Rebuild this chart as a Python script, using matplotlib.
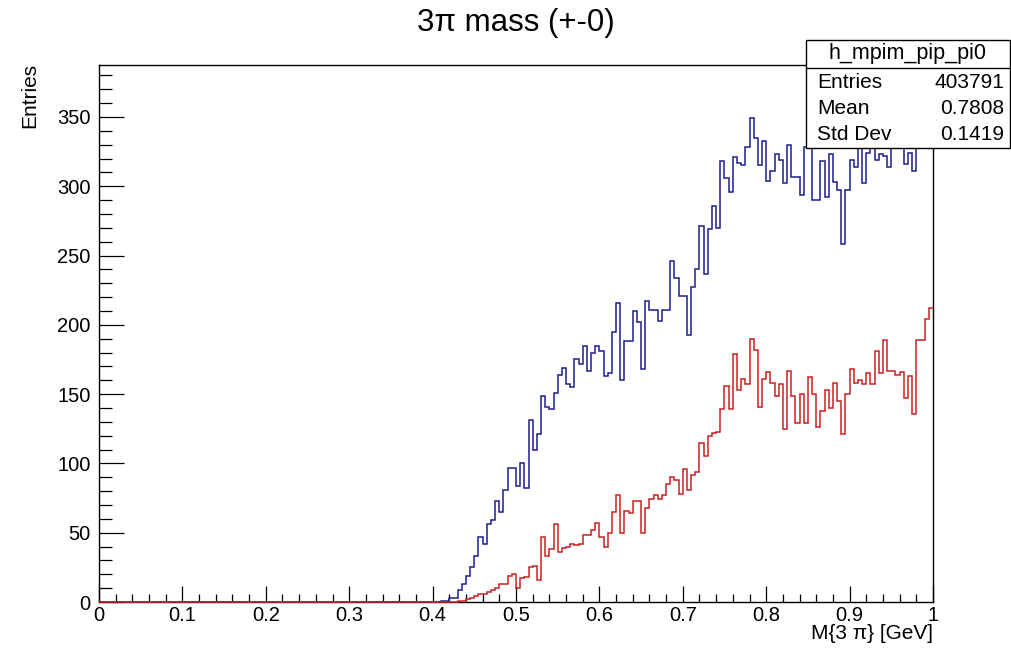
import numpy as np
import matplotlib
matplotlib.use("Agg")
import matplotlib.pyplot as plt
from matplotlib.patches import Rectangle
from matplotlib.lines import Line2D
from matplotlib.ticker import MultipleLocator, FuncFormatter

plt.rcParams['font.family'] = ['Liberation Sans', 'DejaVu Sans']

# ---- data (200 bins from 0 to 1 GeV) ----
n_bins = 200
x_min, x_max = 0.0, 1.0

blue_counts = [0] * 82 + [
    1, 1, 3, 3, 9, 13, 19, 25, 33, 47,            # 82-91
    42, 56, 59, 73, 65, 81, 97, 97, 84, 100,      # 92-101
    82, 131, 110, 121, 149, 141, 139, 151, 164, 169,  # 102-111
    157, 155, 175, 172, 185, 167, 180, 185, 181, 163,  # 112-121
    165, 195, 216, 160, 188, 188, 210, 202, 168, 217,  # 122-131
    211, 211, 203, 211, 211, 246, 234, 221, 221, 193,  # 132-141
    227, 240, 271, 237, 269, 286, 270, 318, 306, 296,  # 142-151
    321, 317, 315, 328, 349, 335, 315, 333, 304, 311,  # 152-161
    323, 319, 302, 330, 307, 307, 294, 328, 335, 290,  # 162-171
    290, 318, 292, 323, 303, 297, 258, 297, 319, 314,  # 172-181
    335, 302, 324, 338, 319, 323, 322, 314, 340, 345,  # 182-191
    328, 316, 324, 311, 345, 369, 350, 338,            # 192-199
]

red_counts = [0] * 86 + [
    1, 1, 2, 3, 4, 6, 6, 7, 9, 10,                # 86-95
    13, 13, 19, 20, 10, 17, 18, 25, 26, 16,       # 96-105
    47, 33, 38, 56, 36, 39, 40, 42, 41, 42,       # 106-115
    48, 48, 52, 57, 47, 40, 50, 65, 77, 50,       # 116-125
    66, 64, 73, 73, 50, 68, 74, 77, 74, 77,       # 126-135
    85, 90, 88, 78, 96, 81, 92, 94, 115, 105,     # 136-145
    120, 122, 123, 139, 156, 139, 179, 153, 161, 157,  # 146-155
    190, 182, 141, 161, 166, 158, 149, 157, 125, 167,  # 156-165
    149, 129, 150, 129, 162, 150, 126, 138, 153, 140,  # 166-175
    158, 145, 121, 150, 168, 158, 160, 157, 165, 157,  # 176-185
    181, 165, 189, 167, 167, 164, 166, 147, 163, 136,  # 186-195
    189, 189, 204, 212,                                # 196-199
]

title_text = "3\u03c0 mass (+-0)"
x_title = "M{3 \u03c0} [GeV]"
y_title = "Entries"
stats_name = "h_mpim_pip_pi0"
stats_rows = [("Entries", "403791"), ("Mean", "0.7808"), ("Std Dev", "0.1419")]
y_max = 387.5

edges = np.linspace(x_min, x_max, n_bins + 1)

# ---- figure ----
W, H = 1012, 656
fig = plt.figure(figsize=(W / 100, H / 100), dpi=100)
fx = lambda px: px / W
fy = lambda py: 1 - py / H

ax = fig.add_axes([fx(99), fy(602), (933 - 99) / W, (602 - 65) / H])
for s in ax.spines.values():
    s.set_linewidth(1.0)
    s.set_color('black')
    s.set_zorder(2)
ax.stairs(blue_counts, edges, color='#1c1c8c', lw=1.1, baseline=None, zorder=3,
          clip_on=False)
ax.stairs(red_counts, edges, color='#cc2020', lw=1.1, baseline=None, zorder=4,
          clip_on=False)

ax.set_xlim(x_min, x_max)
ax.set_ylim(0, y_max)

ax.xaxis.set_major_locator(MultipleLocator(0.1))
ax.xaxis.set_minor_locator(MultipleLocator(0.02))
ax.yaxis.set_major_locator(MultipleLocator(50))
ax.yaxis.set_minor_locator(MultipleLocator(10))
ax.tick_params(axis='x', which='major', direction='in', length=11.5, width=0.9, pad=3, labelsize=14.5)
ax.tick_params(axis='x', which='minor', direction='in', length=5.8, width=0.9)
ax.tick_params(axis='y', which='major', direction='in', length=18, width=0.9, pad=6, labelsize=14.5)
ax.tick_params(axis='y', which='minor', direction='in', length=9, width=0.9)
ax.xaxis.set_major_formatter(FuncFormatter(
    lambda v, p: "0" if abs(v) < 1e-9 else ("1" if abs(v - 1) < 1e-9 else f"{v:.1f}")))

# titles
fig.text(fx(516), fy(23), title_text, ha='center', va='center', fontsize=22.5)
fig.text(fx(933), fy(624), x_title, ha='right', va='top', fontsize=15)
fig.text(fx(30), fy(63), y_title, ha='center', va='top', rotation=90, fontsize=15)

# stats box
bx0, bx1, by0, by1 = 806, 1010, 40, 148
fig.add_artist(Rectangle((fx(bx0), fy(by1)), (bx1 - bx0) / W, (by1 - by0) / H,
                         transform=fig.transFigure, facecolor='white',
                         edgecolor='black', lw=1.0, zorder=5))
fig.add_artist(Line2D([fx(bx0), fx(bx1)], [fy(68), fy(68)], transform=fig.transFigure,
                      color='black', lw=1.0, zorder=6))
fig.text(fx((bx0 + bx1) / 2), fy(54), stats_name, ha='center', va='center',
         fontsize=15.5, zorder=7)
for i, (lab, val) in enumerate(stats_rows):
    yy = 82 + i * 26
    fig.text(fx(817), fy(yy), lab, ha='left', va='center', fontsize=15, zorder=7)
    fig.text(fx(1004), fy(yy), val, ha='right', va='center', fontsize=15, zorder=7)

fig.savefig("out.png", dpi=100, facecolor='white')
